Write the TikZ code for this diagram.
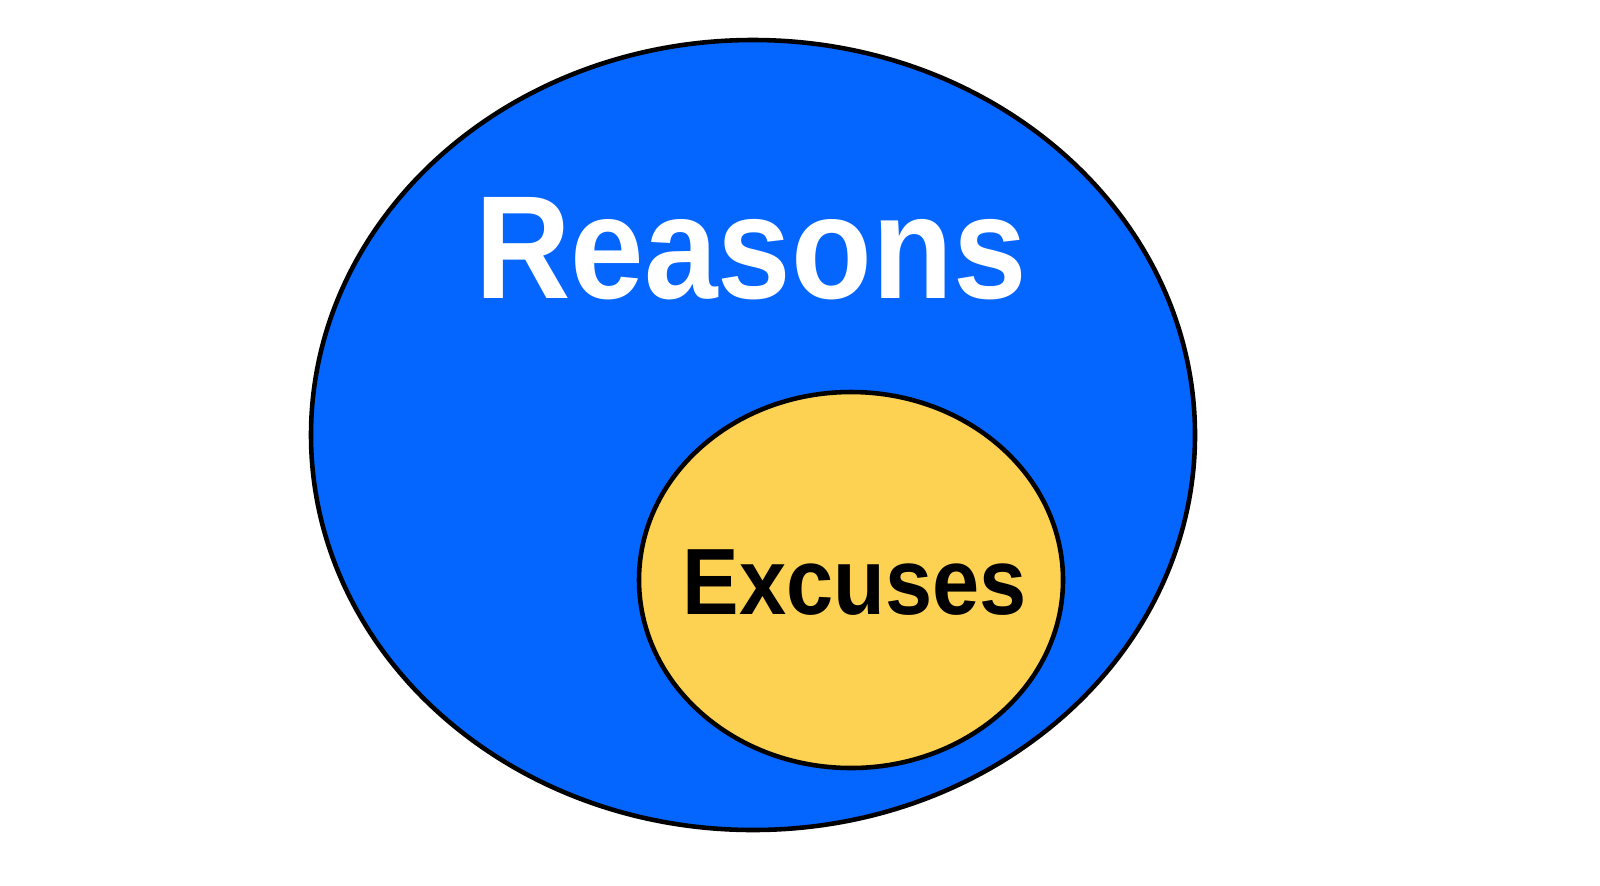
\documentclass[tikz,border=0pt]{standalone}
\usepackage{fontspec}
\setmainfont{Liberation Sans}[FakeStretch=0.9]
\usetikzlibrary{shapes.geometric}
\definecolor{reasonblue}{RGB}{5,102,255}
\definecolor{excuseyellow}{RGB}{253,210,82}
\tikzset{
  set/.style={draw=black, line width=1.3pt, ellipse, inner sep=0pt},
  setlabel/.style={anchor=base, inner sep=0pt, font=\bfseries}
}

\begin{document}
\begin{tikzpicture}
\useasboundingbox (0,0) rectangle (16,8.85);
\node[set, fill=reasonblue, minimum width=8.84cm, minimum height=7.9cm] (reasons) at (7.53,4.50) {};
\node[set, fill=excuseyellow, minimum width=4.24cm, minimum height=3.76cm] (excuses) at (8.51,3.05) {};
\node[setlabel, text=white, font=\fontsize{41.8}{45}\selectfont\bfseries] (reasonslabel) at (7.51,5.87) {Reasons};
\node[setlabel, text=black, font=\fontsize{26.8}{30}\selectfont\bfseries] (excuseslabel) at (8.55,2.71) {Excuses};
\end{tikzpicture}
\end{document}
